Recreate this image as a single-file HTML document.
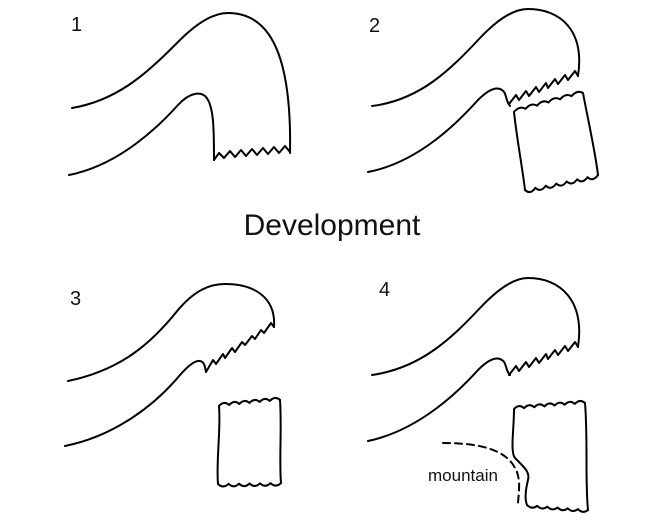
<!DOCTYPE html>
<html><head><meta charset="utf-8"><style>
html,body{margin:0;padding:0;background:#fff;}
svg{display:block;}
text{font-family:"Liberation Sans",Arial,sans-serif;fill:#111;}
</style></head><body>
<svg width="650" height="524" viewBox="0 0 650 524" xmlns="http://www.w3.org/2000/svg">
<g fill="none" stroke="#000" stroke-width="2" stroke-linejoin="round" stroke-linecap="round">
<!-- Panel 1 -->
<path d="M72,108 C120,100 150,70 180,40 C200,20 215,13 228,13 C265,13 292,45 290,153"/>
<path d="M69,175 C120,165 160,125 178,105 C190,92 200,92 205,96 C214,104 214,130 214,160"/>
<polyline points="214,160 219,153 224,158 230,151 235,157 241,150 246,156 252,149 257,155 263,148 268,154 274,147 279,153 285,146 290,152"/>
<!-- Panel 2 -->
<path d="M372,106 C420,100 450,70 480,38 C500,17 515,9 528,9 C560,9 585,30 578,76"/>
<path d="M368,172 C420,162 460,120 478,100 C488,90 496,86 502,90 C507,93 505,100 510,106"/>
<polyline points="578,76 575,71 568,80 565,75 558,84 555,79 548,88 546,83 539,92 536,87 529,96 526,91 519,100 516,95 509,104"/>
<path d="M514,112 q5.75,-6.6 11.5,-3.17 q5.75,-6.6 11.5,-3.17 q5.75,-6.6 11.5,-3.17 q5.75,-6.6 11.5,-3.17 q5.75,-6.6 11.5,-3.17 q5.75,-6.6 11.5,-3.17"/>
<path d="M514,112 C517,140 522,165 525,190"/>
<path d="M583,93 C588,120 595,150 598,175"/>
<path d="M525,190 q5.2,5 10.43,-2.14 q5.2,5 10.43,-2.14 q5.2,5 10.43,-2.14 q5.2,5 10.43,-2.14 q5.2,5 10.43,-2.14 q5.2,5 10.43,-2.14 q5.2,5 10.43,-2.14"/>
<!-- Panel 3 -->
<path d="M68,381 C120,370 150,345 178,310 C195,290 210,284 225,284 C255,284 276,298 274,327"/>
<path d="M65,446 C115,436 155,405 180,375 C188,366 195,360 200,361 C205,362 205,368 206,372"/>
<polyline points="274,327 271,323 264,333 261,330 255,339 252,336 245,345 242,342 235,352 232,348 225,358 223,354 216,364 213,360 206,372"/>
<path d="M219,406 q5.08,-5.5 10.17,-1 q5.08,-5.5 10.17,-1 q5.08,-5.5 10.17,-1 q5.08,-5.5 10.17,-1 q5.08,-5.5 10.17,-1 q5.08,-5.5 10.17,-1"/>
<path d="M219,406 C221,430 216,460 218,484"/>
<path d="M280,400 C282,430 279,460 281,483"/>
<path d="M218,484 q5.25,5 10.5,-0.17 q5.25,5 10.5,-0.17 q5.25,5 10.5,-0.17 q5.25,5 10.5,-0.17 q5.25,5 10.5,-0.17 q5.25,5 10.5,-0.17"/>
<!-- Panel 4 -->
<path d="M372,375 C420,368 450,340 480,308 C500,287 515,278 528,278 C560,278 585,300 578,347"/>
<path d="M368,441 C420,430 460,390 478,370 C488,360 496,356 502,360 C507,363 505,370 510,375"/>
<polyline points="578,347 575,342 568,351 565,346 558,355 555,350 548,359 546,354 539,363 536,358 529,367 526,362 519,371 516,366 509,375"/>
<path d="M514,409 q5.07,-5.4 10.14,-0.86 q5.07,-5.4 10.14,-0.86 q5.07,-5.4 10.14,-0.86 q5.07,-5.4 10.14,-0.86 q5.07,-5.4 10.14,-0.86 q5.07,-5.4 10.14,-0.86 q5.07,-5.4 10.14,-0.86"/>
<path d="M514,409 C514,430 510,452 515,458 C525,468 530,472 528,480 C525,492 525,500 527,505"/>
<path d="M585,403 C588,440 585,480 588,510"/>
<path d="M527,505 q5.08,5 10.17,0.83 q5.08,5 10.17,0.83 q5.08,5 10.17,0.83 q5.08,5 10.17,0.83 q5.08,5 10.17,0.83 q5.08,5 10.17,0.83"/>
<path d="M443,443 C475,443 505,448 515,468 C522,480 518,495 518,505" stroke-dasharray="7,5"/>
</g>
<text x="71" y="31" font-size="20">1</text>
<text x="369" y="32" font-size="20">2</text>
<text x="70" y="305" font-size="20">3</text>
<text x="379" y="296" font-size="20">4</text>
<text x="332" y="235" font-size="30" text-anchor="middle">Development</text>
<text x="428" y="481" font-size="17">mountain</text>
</svg>
</body></html>
